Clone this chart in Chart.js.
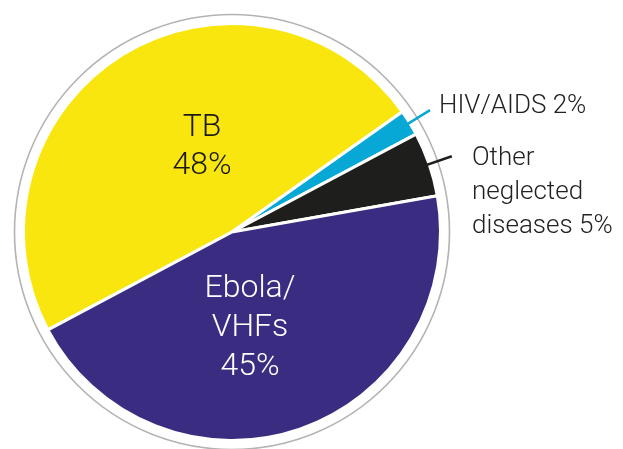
<!DOCTYPE html>
<html>
<head>
<meta charset="utf-8">
<script src="https://cdn.jsdelivr.net/npm/chart.js@4.4.1/dist/chart.umd.min.js"></script>
<style>
  html, body { margin: 0; padding: 0; background: #fff; }
  #wrap { width: 623px; height: 449px; }
</style>
</head>
<body>
<div id="wrap"><canvas id="pie"></canvas></div>
<script>
var categories = ['TB', 'HIV/AIDS', 'Other neglected diseases', 'Ebola/VHFs'];
var shares = [48, 2, 5, 45];
var sliceLabels = [['TB', '48%'], ['HIV/AIDS 2%'], ['Other', 'neglected', 'diseases 5%'], ['Ebola/', 'VHFs', '45%']];
var colors = ['#f9e60e', '#08a8d6', '#1e1e1c', '#3a2c80'];

// ring around the pie + slice labels
var pieDecor = {
    id: 'pieDecor',
    afterDatasetsDraw: function (chart) {
        var ctx = chart.ctx;
        var arcs = chart.getDatasetMeta(0).data;
        var cx = arcs[0].x, cy = arcs[0].y, r = arcs[0].outerRadius;
        ctx.save();
        ctx.beginPath();
        ctx.arc(cx, cy, r + 9, 0, Math.PI * 2);
        ctx.strokeStyle = '#b3b3b3';
        ctx.lineWidth = 1.6;
        ctx.stroke();

        ctx.font = '300 32px Roboto';
        ctx.textAlign = 'center';
        ctx.textBaseline = 'middle';
        // inside labels
        ctx.fillStyle = '#1a1a1a';
        sliceLabels[0].forEach(function (t, i) { ctx.fillText(t, cx - 30, cy - 104 + i * 38); });
        ctx.fillStyle = '#ffffff';
        sliceLabels[3].forEach(function (t, i) { ctx.fillText(t, cx + 18, cy + 57 + i * 39); });

        // outside labels with leader lines
        [1, 2].forEach(function (k) {
            var a = arcs[k];
            var mid = (a.startAngle + a.endAngle) / 2;
            var x0 = cx + Math.cos(mid) * (r - 14), y0 = cy + Math.sin(mid) * (r - 14);
            var x1 = cx + Math.cos(mid) * (r + 24), y1 = cy + Math.sin(mid) * (r + 24);
            ctx.beginPath();
            ctx.moveTo(x0, y0);
            ctx.lineTo(x1, y1);
            ctx.strokeStyle = colors[k];
            ctx.lineWidth = 2.5;
            ctx.stroke();
        });
        ctx.font = '300 26px Roboto';
        ctx.textAlign = 'left';
        ctx.fillStyle = '#222222';
        ctx.fillText(sliceLabels[1][0], cx + 207, cy - 126);
        sliceLabels[2].forEach(function (t, i) { ctx.fillText(t, cx + 240, cy - 74 + i * 34); });
        ctx.restore();
    }
};

document.addEventListener('DOMContentLoaded', function () {
    var ctx = document.getElementById('pie').getContext('2d');
    var myChart = new Chart(ctx, {
        type: 'pie',
        data: {
            labels: categories,
            datasets: [{
                data: shares,
                backgroundColor: colors,
                borderColor: '#ffffff',
                borderWidth: 3
            }]
        },
        options: {
            responsive: true,
            maintainAspectRatio: false,
            animation: false,
            rotation: 242,
            layout: { padding: { left: 22, top: 22, right: 181, bottom: 7 } },
            plugins: {
                legend: { display: false },
                tooltip: { enabled: false }
            }
        },
        plugins: [pieDecor]
    });
});
</script>
</body>
</html>
